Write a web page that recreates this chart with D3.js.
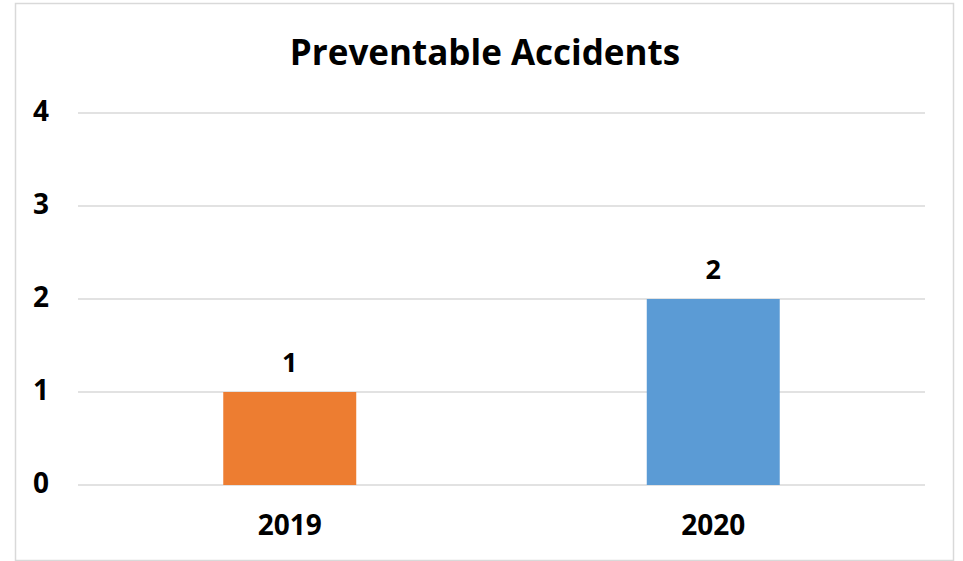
<!DOCTYPE html>
<html>
<head>
<meta charset="utf-8">
<script src="https://cdn.jsdelivr.net/npm/d3@7"></script>
<style>
  html, body { margin: 0; padding: 0; background: #fff; }
  svg { display: block; }
  text { font-family: "Open Sans", Lato, sans-serif; font-weight: bold; fill: #000; }
</style>
</head>
<body>
<svg id="chart" width="963" height="561"></svg>
<script>
const categories = ["2019", "2020"];
const values = [1, 2];
const barColors = ["#ED7D31", "#5B9BD5"];
const yTicks = [0, 1, 2, 3, 4];
const title = "Preventable Accidents";

const svg = d3.select("#chart");
const FONT = "'Open Sans', Lato, sans-serif";

// chart frame
svg.append("rect")
  .attr("x", 15.5).attr("y", 3.5)
  .attr("width", 938).attr("height", 557)
  .attr("fill", "#fff").attr("stroke", "#d9d9d9").attr("stroke-width", 1.5);

const plot = { left: 78, right: 925, top: 113, bottom: 485 };

const x = d3.scaleBand()
  .domain(categories)
  .range([plot.left, plot.right])
  .paddingInner(0.686)
  .paddingOuter(0.343);

const y = d3.scaleLinear()
  .domain([0, 4])
  .range([plot.bottom, plot.top]);

// gridlines
svg.append("g")
  .selectAll("line")
  .data(yTicks)
  .join("line")
  .attr("x1", plot.left).attr("x2", plot.right)
  .attr("y1", d => y(d)).attr("y2", d => y(d))
  .attr("stroke", "#d9d9d9").attr("stroke-width", 1.5);

// y-axis labels
const yAxis = d3.axisLeft(y).tickValues(yTicks).tickSize(0).tickPadding(0).tickFormat(d3.format("d"));
const gy = svg.append("g").attr("transform", "translate(49,0)").call(yAxis);
gy.select(".domain").remove();
gy.selectAll("text")
  .attr("font-size", 28).attr("font-family", FONT).attr("font-weight", "bold")
  .attr("fill", "#000").attr("dy", "0.25em");

// x-axis labels
const xAxis = d3.axisBottom(x).tickSize(0).tickPadding(0);
const gx = svg.append("g").attr("transform", `translate(0,${plot.bottom})`).call(xAxis);
gx.select(".domain").remove();
gx.selectAll("text")
  .attr("font-size", 28).attr("font-family", FONT).attr("font-weight", "bold")
  .attr("fill", "#000").attr("dy", null).attr("y", 50);

// bars
svg.append("g")
  .selectAll("rect")
  .data(categories)
  .join("rect")
  .attr("x", d => x(d))
  .attr("width", x.bandwidth())
  .attr("y", (d, i) => y(values[i]))
  .attr("height", (d, i) => y(0) - y(values[i]))
  .attr("fill", (d, i) => barColors[i]);

// value labels
svg.append("g")
  .selectAll("text")
  .data(categories)
  .join("text")
  .attr("x", d => x(d) + x.bandwidth() / 2)
  .attr("y", (d, i) => y(values[i]) - 20)
  .attr("text-anchor", "middle")
  .attr("font-size", 27)
  .text((d, i) => values[i]);

// title
svg.append("text")
  .attr("x", 485).attr("y", 65)
  .attr("text-anchor", "middle")
  .attr("font-size", 35)
  .text(title);
</script>
</body>
</html>
